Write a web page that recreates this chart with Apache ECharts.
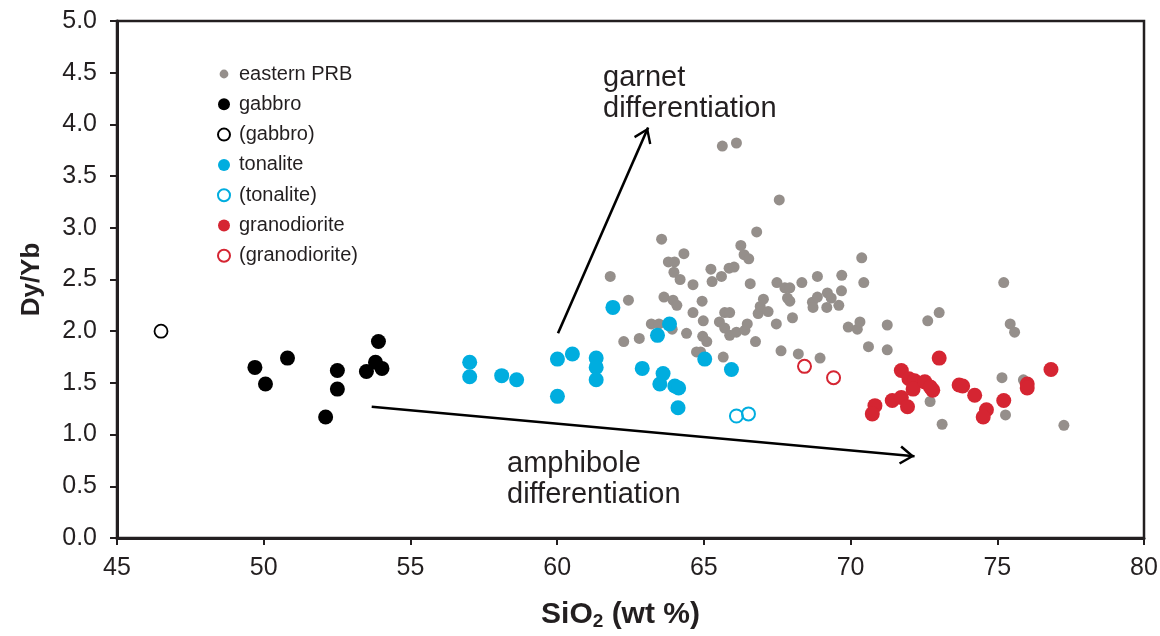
<!DOCTYPE html>
<html><head><meta charset="utf-8">
<script src="https://cdn.jsdelivr.net/npm/echarts@6.0.0/dist/echarts.min.js"></script>
<style>html,body{margin:0;padding:0;background:#fff}#c{width:1160px;height:636px}</style>
</head><body><div id="c"></div>
<script>
// ---- data ----
const prb = [[65.63,3.79],[66.11,3.82],[67.57,3.27],[66.80,2.96],[63.56,2.89],[66.26,2.83],[66.37,2.74],[66.53,2.70],[64.32,2.75],[63.79,2.67],[64.00,2.67],[63.98,2.57],[64.19,2.50],[61.81,2.53],[64.63,2.45],[65.24,2.60],[65.28,2.48],[65.60,2.53],[65.86,2.61],[66.03,2.62],[66.58,2.46],[67.49,2.47],[67.76,2.42],[67.93,2.42],[68.34,2.47],[68.87,2.53],[69.70,2.54],[70.38,2.71],[70.45,2.47],[62.43,2.30],[63.64,2.33],[63.95,2.30],[64.08,2.25],[64.94,2.29],[64.63,2.18],[64.98,2.10],[65.71,2.18],[65.88,2.18],[65.53,2.09],[65.71,2.03],[65.88,1.96],[66.11,1.99],[66.40,2.01],[66.48,2.07],[66.85,2.17],[66.92,2.24],[67.03,2.31],[67.19,2.19],[67.47,2.07],[67.85,2.32],[67.93,2.29],[68.02,2.13],[68.70,2.28],[68.87,2.33],[69.21,2.37],[69.34,2.32],[69.19,2.23],[69.60,2.25],[69.69,2.39],[68.72,2.23],[69.92,2.04],[70.23,2.02],[70.32,2.09],[70.61,1.85],[71.25,1.82],[71.25,2.06],[63.21,2.07],[63.47,2.07],[63.92,2.02],[64.41,1.98],[62.27,1.90],[62.80,1.93],[64.96,1.95],[65.10,1.90],[64.75,1.80],[64.89,1.80],[65.66,1.75],[66.76,1.90],[67.63,1.81],[68.22,1.78],[68.96,1.74],[72.63,2.10],[73.02,2.18],[75.22,2.47],[75.44,2.07],[75.59,1.99],[75.16,1.55],[75.89,1.53],[72.71,1.32],[75.28,1.19],[73.12,1.10],[77.27,1.09]];
const gabbro = [[49.70,1.65],[50.06,1.49],[50.81,1.74],[52.11,1.17],[52.51,1.62],[52.51,1.44],[53.50,1.61],[53.81,1.70],[53.91,1.90],[54.03,1.64]];
const gabbroOpen = [[46.50,2.0]];
const tonalite = [[57.02,1.70],[57.02,1.56],[58.11,1.57],[58.62,1.53],[60.01,1.73],[60.52,1.78],[60.01,1.37],[61.33,1.74],[61.33,1.65],[61.33,1.53],[61.90,2.23],[62.90,1.64],[63.42,1.96],[63.83,2.07],[63.61,1.59],[63.50,1.49],[64.01,1.47],[64.14,1.45],[64.12,1.26],[65.03,1.73],[65.94,1.63]];
const tonaliteOpen = [[66.11,1.18],[66.52,1.20]];
const granodiorite = [[73.02,1.74],[71.73,1.62],[71.99,1.54],[72.18,1.52],[72.13,1.44],[72.53,1.51],[72.80,1.43],[72.72,1.46],[71.42,1.33],[71.73,1.36],[71.94,1.27],[70.83,1.28],[70.74,1.20],[73.70,1.48],[73.82,1.47],[74.23,1.38],[74.63,1.24],[74.52,1.17],[75.22,1.33],[76.02,1.49],[76.02,1.45],[76.83,1.63]];
const granodioriteOpen = [[68.43,1.66],[69.42,1.55]];
const garnetArrow = [[60.03,1.98],[63.10,3.97]];
const amphiboleArrow = [[53.68,1.27],[72.18,0.79]];
const seriesNames = ['eastern PRB','gabbro','(gabbro)','tonalite','(tonalite)','granodiorite','(granodiorite)'];

// ---- styles ----
const GRAY='#958f8b', BLUE='#00addf', RED='#d52532', INK='#231f20';
const SANS = "'Liberation Sans',Arial,sans-serif";
const chevron = 'path://M50,-80M50,0L100,72L90,80L50,22L10,80L0,72Z';
const smallDot = 'path://M0,0M12,12M1.6,6A4.4,4.4,0,1,1,10.4,6A4.4,4.4,0,1,1,1.6,6Z';

const chart = echarts.init(document.getElementById('c'), null, {renderer:'canvas'});
function sc(name,data,size,style,z){
  return {name, type:'scatter', data, symbol:'circle', symbolSize:size, itemStyle:Object.assign({opacity:1},style), z:z||2,
    emphasis:{disabled:true}, silent:true, animation:false};
}
chart.setOption({
  animation:false,
  backgroundColor:'#fff',
  grid:{left:117,right:16,top:21,bottom:98,containLabel:false,outerBoundsMode:'none',show:true,borderColor:INK,borderWidth:2.5,backgroundColor:'transparent'},
  legend:{
    data:[{name:seriesNames[0],icon:smallDot}].concat(seriesNames.slice(1).map(n=>({name:n,icon:'circle'}))),
    orient:'vertical', left:212, top:59, itemWidth:20, itemHeight:12, itemGap:10.3,
    textStyle:{fontFamily:SANS,fontSize:20,color:INK,lineHeight:20},
    selectedMode:false
  },
  xAxis:{type:'value',min:45,max:80,interval:5,
    axisLine:{show:true,lineStyle:{color:INK,width:3}},
    axisTick:{show:true,inside:false,length:7,lineStyle:{color:INK,width:2}},
    splitLine:{show:false},
    axisLabel:{fontFamily:SANS,fontSize:25,color:INK,margin:18},
    name:'{b|SiO}{s|2}{b| (wt %)}', nameLocation:'middle', nameGap:60,
    nameTextStyle:{padding:[0,20,0,0],rich:{b:{fontFamily:SANS,fontWeight:'bold',fontSize:30,color:INK},s:{fontFamily:SANS,fontWeight:'bold',fontSize:19,color:INK,verticalAlign:'bottom',padding:[14,0,0,0]}}}
  },
  yAxis:{type:'value',min:0,max:5,interval:0.5,
    axisLine:{show:true,lineStyle:{color:INK,width:3}},
    axisTick:{show:true,inside:false,length:7,lineStyle:{color:INK,width:2}},
    splitLine:{show:false},
    axisLabel:{fontFamily:SANS,fontSize:25,color:INK,margin:20,formatter:v=>v.toFixed(1)},
    name:'Dy/Yb', nameLocation:'middle', nameGap:72, nameRotate:90,
    nameTextStyle:{fontFamily:SANS,fontWeight:'bold',fontSize:26,color:INK}
  },
  graphic:[
    {type:'text',left:603,top:62,silent:true,style:{text:'garnet\ndifferentiation',font:'29px '+SANS,lineHeight:31,fill:INK}},
    {type:'text',left:507,top:448,silent:true,style:{text:'amphibole\ndifferentiation',font:'29px '+SANS,lineHeight:31,fill:INK}}
  ],
  series:[
    sc('eastern PRB',prb,11,{color:GRAY},1),
    sc('gabbro',gabbro,15,{color:'#000'}),
    sc('(gabbro)',gabbroOpen,13,{color:'rgba(255,255,255,0)',borderColor:'#000',borderWidth:1.8}),
    sc('tonalite',tonalite,15,{color:BLUE}),
    sc('(tonalite)',tonaliteOpen,13,{color:'rgba(255,255,255,0)',borderColor:BLUE,borderWidth:2}),
    sc('granodiorite',granodiorite,15,{color:RED}),
    sc('(granodiorite)',granodioriteOpen,13,{color:'rgba(255,255,255,0)',borderColor:RED,borderWidth:2}),
    {type:'line',name:'arrows',data:[],silent:true,animation:false,
      markLine:{silent:true,animation:false,symbol:['none',chevron],symbolSize:[19,30],
        label:{show:false},emphasis:{disabled:true},
        lineStyle:{color:'#000',width:2.6,type:'solid'},
        data:[
          [{coord:garnetArrow[0]},{coord:garnetArrow[1]}],
          [{coord:amphiboleArrow[0]},{coord:amphiboleArrow[1]}]
        ]}}
  ]
});
</script></body></html>
